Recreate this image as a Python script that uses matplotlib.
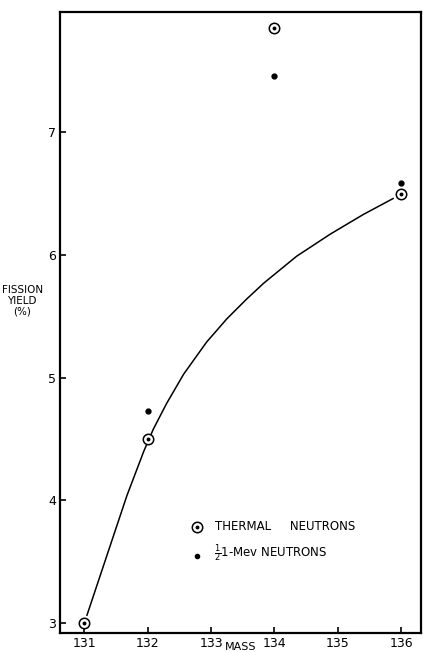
import numpy as np
import matplotlib
matplotlib.use("Agg")
import matplotlib.pyplot as plt

# fission yields vs mass number
mass_thermal = [131, 132, 134, 136]
yield_thermal = [3.0, 4.5, 7.85, 6.5]

mass_fast = [132, 134, 136]
yield_fast = [4.73, 7.46, 6.59]

# smooth curve drawn through the thermal points
curve_mass = [131.045, 131.41, 131.675, 131.94, 132.09, 132.30, 132.57, 132.93,
              133.25, 133.56, 133.83, 134.35, 134.88, 135.40, 135.87]
curve_yield = [3.065, 3.63, 4.04, 4.40, 4.58, 4.79, 5.03, 5.29,
               5.48, 5.64, 5.77, 5.99, 6.17, 6.33, 6.46]

xticks = [131, 132, 133, 134, 135, 136]
yticks = [3, 4, 5, 6, 7]

fig = plt.figure(figsize=(4.23, 6.52), dpi=100)
ax = fig.add_axes([60 / 423, 19 / 652, 361 / 423, 621 / 652])

ax.plot(curve_mass, curve_yield, color="black", lw=1.1, zorder=2,
        solid_joinstyle="round")

# circled dots for thermal neutrons
ax.plot(mass_thermal, yield_thermal, "o", ms=7.5, mfc="white", mec="black",
        mew=1.1, zorder=3)
ax.plot(mass_thermal, yield_thermal, "o", ms=1.8, color="black", zorder=4)
# plain dots for fast neutrons
ax.plot(mass_fast, yield_fast, "o", ms=3.5, color="black", zorder=4)

ax.set_xlim(130.62, 136.31)
ax.set_ylim(2.92, 7.98)
ax.set_xticks(xticks)
ax.set_yticks(yticks)
ax.set_xticklabels([str(t) for t in xticks])
ax.set_yticklabels([str(t) for t in yticks])
ax.tick_params(direction="in", length=4, width=1.2, labelsize=9, pad=3)
for s in ax.spines.values():
    s.set_linewidth(1.6)

# legend written by hand inside the frame
ax.plot([132.78], [3.78], "o", ms=7.5, mfc="white", mec="black", mew=1.1)
ax.plot([132.78], [3.78], "o", ms=1.8, color="black")
ax.text(133.07, 3.79, "THERMAL     NEUTRONS", fontsize=8.5, va="center")
ax.plot([132.78], [3.55], "o", ms=3, color="black")
ax.text(133.04, 3.57, r"$\frac{1}{2}$1-Mev NEUTRONS", fontsize=8.5, va="center")

ax.text(-0.105, 0.535, "FISSION\nYIELD\n(%)", transform=ax.transAxes,
        fontsize=7.5, ha="center", va="center", linespacing=1.15)
ax.text(133.46, -0.023, "MASS", fontsize=8, ha="center", va="center",
        transform=ax.get_xaxis_transform())

fig.savefig("out.png", dpi=100)
